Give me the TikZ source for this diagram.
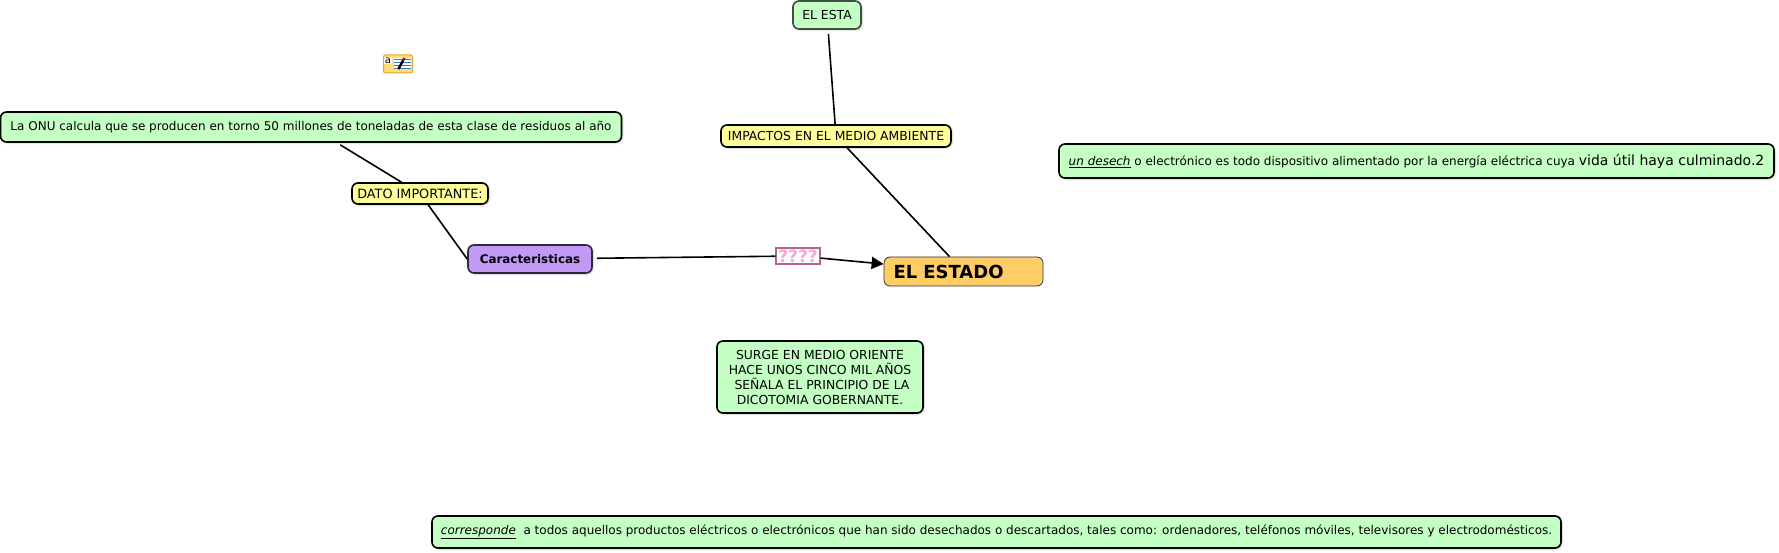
\documentclass[tikz,border=0pt]{standalone}
\usepackage{fontspec}
\setmainfont{DejaVu Sans}
\usepackage{xcolor}
\usetikzlibrary{arrows.meta,shadows.blur}
\definecolor{conceptGreen}{HTML}{C4FFC4}
\definecolor{linkYellow}{HTML}{FFFF99}
\definecolor{rootOrange}{HTML}{FFCC66}
\definecolor{featPurple}{HTML}{C299F5}
\definecolor{askPink}{HTML}{B5608F}
\definecolor{askLite}{HTML}{F5A8D0}
\definecolor{softEdge}{HTML}{3C503C}
\definecolor{noteEdge}{HTML}{E0A820}
\definecolor{noteFill}{HTML}{FFDD77}
\definecolor{noteBlue}{HTML}{3A78C8}
\tikzset{
  softshadow/.style={blur shadow={shadow xshift=1pt,shadow yshift=-1pt,shadow blur radius=2pt,
                     shadow blur steps=4,shadow opacity=25}},
  concept/.style={draw=black, line width=1.6pt, rounded corners=6pt, fill=conceptGreen,
                  inner sep=0pt, align=center, font=\fontsize{12}{15}\selectfont, softshadow},
  linkbox/.style={draw=black, line width=1.6pt, rounded corners=6pt, fill=linkYellow,
                  inner sep=0pt, align=center, font=\fontsize{12.4}{15}\selectfont, softshadow},
  flow/.style={line width=1.6pt, draw=black}
}
\begin{document}
\begin{tikzpicture}[x=1pt,y=-1pt]
  \useasboundingbox (0,0) rectangle (1779,553);
  % top row
  \node[concept,draw=softEdge,minimum width=68pt,minimum height=28pt,
        font=\fontsize{12.4}{15}\selectfont] (esta) at (827,15) {EL ESTA};
  \node[linkbox,minimum width=230pt,minimum height=22pt] (impactos) at (836,136) {IMPACTOS EN EL MEDIO AMBIENTE};
  \node[concept,minimum width=621pt,minimum height=30pt] (onu) at (311,127)
    {La ONU calcula que se producen en torno 50 millones de toneladas de esta clase de residuos al año};
  \node[concept,minimum width=715pt,minimum height=34pt] (desecho) at (1416.5,161)
    {\underline{\textit{un desech}} o electrónico es todo dispositivo alimentado por la energía eléctrica cuya {\fontsize{14}{18}\selectfont vida útil haya culminado.2}};
  % middle row
  \node[linkbox,minimum width=136pt,minimum height=21pt,
        font=\fontsize{12.8}{15}\selectfont] (dato) at (420,193.5) {DATO IMPORTANTE:};
  \node[draw=black!75!featPurple,line width=1.6pt,rounded corners=6pt,fill=featPurple,
        minimum width=124pt,minimum height=28pt,inner sep=0pt,softshadow,
        font=\fontsize{11.9}{15}\selectfont\bfseries] (carac) at (530,259) {Caracteristicas};
  \node[draw=askPink,line width=1.4pt,fill=white,minimum width=44pt,minimum height=16pt,inner sep=0pt,
        text=askLite,font=\fontsize{17}{15}\selectfont\bfseries] (ask) at (798,256) {????};
  \node[draw=black!80,line width=.8pt,rounded corners=6pt,fill=rootOrange,minimum height=29pt,
        text width=149pt,inner xsep=5pt,inner ysep=0pt,align=left,
        font=\fontsize{18}{22}\selectfont\bfseries] (estado) at (963.5,271.5) {\hspace{4.5pt}EL ESTADO};
  % bottom
  \node[concept,minimum width=206pt,minimum height=72pt,
        font=\fontsize{12.4}{15}\selectfont] (surge) at (820,377)
    {SURGE EN MEDIO ORIENTE\\HACE UNOS CINCO MIL AÑOS~\\~SEÑALA EL PRINCIPIO DE LA\\DICOTOMIA GOBERNANTE.};
  \node[concept,minimum width=1129pt,minimum height=32pt] (corresp) at (996.5,532)
    {\underline{\textit{corresponde}}~ a todos aquellos productos eléctricos o electrónicos que han sido desechados o descartados, tales como: ordenadores, teléfonos móviles, televisores y electrodomésticos.};
  % note icon
  \node[draw=noteEdge,line width=1pt,rounded corners=2pt,fill=noteFill,minimum width=29pt,minimum height=18pt,inner sep=0pt] (note) at (398,64) {};
  \node[fill=white,inner sep=.6pt,font=\fontsize{10}{10}\selectfont] (notea) at (388,60.5) {a};
  \fill[white] (394,58) rectangle (411,69.5);
  \foreach \ypos in {59,62,65,68} {
    \draw[noteBlue,line width=.9pt] (394,\ypos) -- (411,\ypos);
  }
  \draw[black,line width=2.4pt] (398.5,69) -- (403,60.5);
  \draw[red!70!black,line width=2.4pt] (403,60.5) -- (404.5,58);
  % connectors
  \draw[flow,shorten <=4pt] (esta) -- (impactos);
  \draw[flow] (impactos) -- (estado);
  \draw[flow,shorten >=4pt] (dato) -- (onu);
  \draw[flow] (dato) -- (carac.west);
  \draw[flow,shorten <=4pt] (carac) -- (ask);
  \draw[flow,-{Triangle[length=12pt,width=12pt]}] (ask) -- (estado);
\end{tikzpicture}
\end{document}
